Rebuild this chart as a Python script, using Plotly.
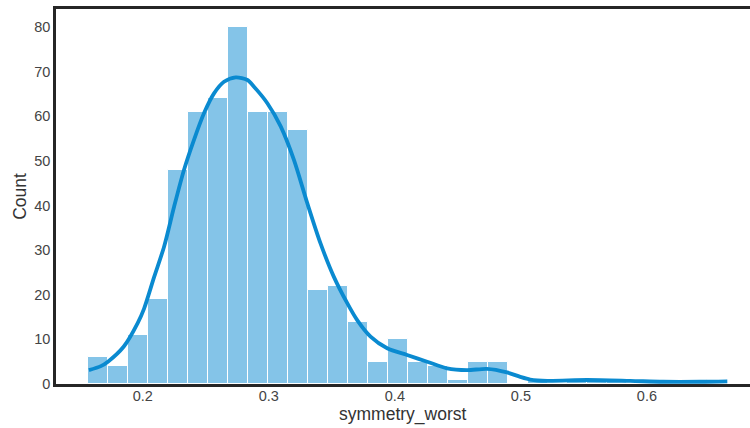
import plotly.graph_objects as go

# Histogram of symmetry_worst (32 bins)
bin_start = 0.1565
bin_end = 0.6638
counts = [6, 4, 11, 19, 48, 61, 64, 80, 61, 61, 57, 21, 22, 14, 5, 10,
          5, 4, 1, 5, 5, 0, 1, 0, 1, 1, 1, 0, 0, 0, 0, 1]

# KDE curve (x value, count scale)
kde_x = [0.1572, 0.1667, 0.1723, 0.1849, 0.1960, 0.2010, 0.2090, 0.2169,
         0.2248, 0.2327, 0.2406, 0.2486, 0.2565, 0.2644, 0.2737, 0.2830,
         0.2882, 0.2988, 0.3094, 0.3199, 0.3305, 0.3410, 0.3516, 0.3622,
         0.3701, 0.3807, 0.3939, 0.4097, 0.4256, 0.4414, 0.4573, 0.4731,
         0.4890, 0.4995, 0.5074, 0.5209, 0.5526, 0.5867, 0.6128, 0.6422,
         0.6638]
kde_y = [3.1, 4.0, 5.0, 8.4, 13.7, 16.9, 24.0, 30.8,
         39.7, 48.0, 54.7, 60.7, 65.1, 67.7, 68.7, 68.1,
         66.6, 62.9, 57.7, 50.2, 40.5, 31.5, 24.0, 18.1,
         14.3, 10.6, 8.0, 6.5, 5.0, 3.5, 3.1, 3.4,
         2.6, 1.6, 1.0, 0.7, 0.9, 0.7, 0.5, 0.5,
         0.6]

x_ticks = [0.2, 0.3, 0.4, 0.5, 0.6]
y_ticks = [0, 10, 20, 30, 40, 50, 60, 70, 80]

n = len(counts)
w = (bin_end - bin_start) / n
centers = [bin_start + w * (i + 0.5) for i in range(n)]

line_col = "#0a8ad0"
bar_col = "#84c4e8"
spine = "#262626"

fig = go.Figure()
fig.add_trace(go.Bar(x=centers, y=counts, width=[w] * n,
                     marker=dict(color=bar_col, line=dict(color="white", width=1)),
                     hoverinfo="skip"))
fig.add_trace(go.Scatter(x=kde_x, y=kde_y, mode="lines",
                         line=dict(color=line_col, width=3.8, shape="spline", smoothing=0.8)))

font = "Liberation Sans, Arial, sans-serif"
fig.update_layout(
    width=750, height=428,
    margin=dict(l=56, r=0, t=9, b=44),
    paper_bgcolor="white", plot_bgcolor="white",
    showlegend=False, bargap=0,
    font=dict(family=font, color="#444444", size=14.5),
    xaxis=dict(range=[0.1311, 0.6818], tickvals=x_ticks,
               ticktext=[f"{v:.1f}" for v in x_ticks],
               showgrid=False, zeroline=False,
               showline=True, linecolor=spine, linewidth=2.5, mirror=True,
               ticks="", ticklen=0, ticklabelstandoff=-3),
    yaxis=dict(range=[0, 84], tickvals=y_ticks,
               showgrid=False, zeroline=False,
               showline=True, linecolor=spine, linewidth=2.5,
               ticks="", ticklen=0,
               title=dict(text="Count", font=dict(size=17.5, color="#333333"), standoff=4)),
    annotations=[dict(text="symmetry_worst", xref="paper", yref="paper",
                      x=0.5, y=-0.049, yanchor="top", xanchor="center", showarrow=False,
                      font=dict(size=17.5, color="#333333"))],
)

fig.write_html("out.html")
